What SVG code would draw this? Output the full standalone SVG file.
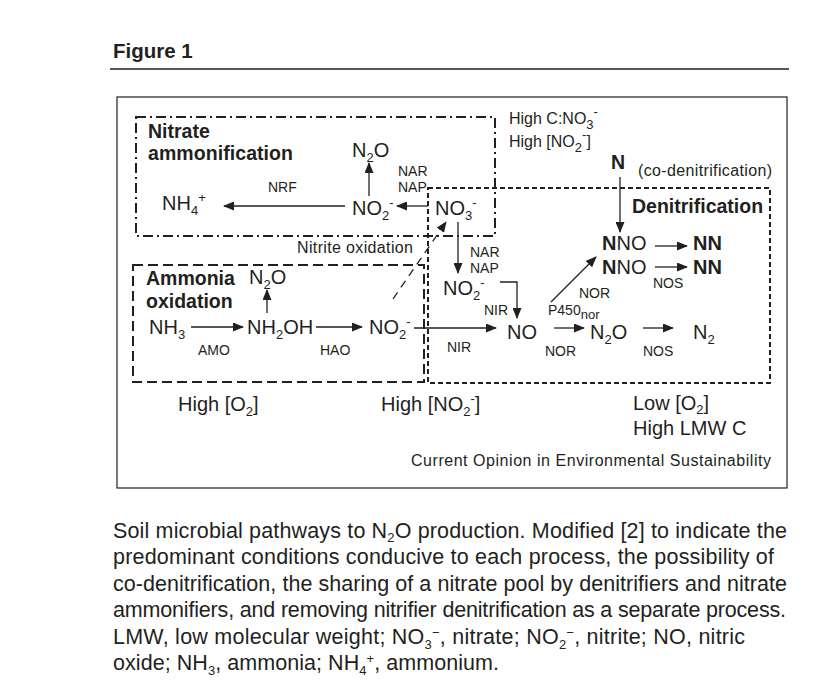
<svg xmlns="http://www.w3.org/2000/svg" width="822" height="688" viewBox="0 0 822 688">
<style>
text{font-family:"Liberation Sans",Arial,sans-serif;fill:#231f20}
.b{font-weight:bold;font-size:19.5px}
.c{font-size:20px}
.e{font-size:14px}
.m{font-size:16px}
.s{font-size:13px}
.cap{font-size:21.5px}
.ln{stroke:#231f20;stroke-width:1.3;fill:none}
.arr{marker-end:url(#ah)}
.bx1{fill:none;stroke:#231f20;stroke-width:2;stroke-dasharray:10 4 2 4}
.bx2{fill:none;stroke:#231f20;stroke-width:2;stroke-dasharray:10 5}
.bx3{fill:none;stroke:#231f20;stroke-width:2;stroke-dasharray:5 3}
</style>
<defs>
<marker id="ah" markerUnits="userSpaceOnUse" markerWidth="11" markerHeight="9" refX="10" refY="4.5" orient="auto">
<path d="M0,0 L11,4.5 L0,9 z" fill="#231f20"/>
</marker>
</defs>
<rect width="822" height="688" fill="#fff"/>
<g id="header">
<text x="113" y="58" style="font-weight:bold;font-size:20.5px">Figure 1</text>
<line x1="110" y1="69" x2="789" y2="69" stroke="#231f20" stroke-width="1.5"/>
<rect x="117" y="97" width="670" height="391" fill="none" stroke="#231f20" stroke-width="1.2"/>
</g>
<g id="nitrate-ammonification">
<rect class="bx1" x="136" y="117" width="359" height="119"/>
<text class="b" x="148" y="138">Nitrate</text>
<text class="b" x="148" y="160" textLength="145">ammonification</text>
<text class="c" x="162" y="210">NH<tspan class="s" dy="5">4</tspan><tspan class="s" dy="-13">+</tspan></text>
<text class="c" x="352" y="157">N<tspan class="s" dy="5">2</tspan><tspan dy="-5">O</tspan></text>
<text class="c" x="352" y="215">NO<tspan class="s" dy="5">2</tspan><tspan class="s" dy="-13">-</tspan></text>
<text class="e" x="268" y="192">NRF</text>
<text class="e" x="398" y="176">NAR</text>
<text class="e" x="398" y="192">NAP</text>
</g>
<g id="nitrate-pool">
<text class="c" x="435" y="215">NO<tspan class="s" dy="5">3</tspan><tspan class="s" dy="-13">-</tspan></text>
</g>
<g id="ammonia-oxidation">
<rect class="bx2" x="133" y="265" width="291" height="117"/>
<text class="b" x="146" y="285">Ammonia</text>
<text class="b" x="146" y="308">oxidation</text>
<text class="c" x="249" y="284">N<tspan class="s" dy="5">2</tspan><tspan dy="-5">O</tspan></text>
<text class="c" x="149" y="334">NH<tspan class="s" dy="5">3</tspan></text>
<text class="c" x="247" y="334">NH<tspan class="s" dy="5">2</tspan><tspan dy="-5">OH</tspan></text>
<text class="c" x="369" y="334">NO<tspan class="s" dy="5">2</tspan><tspan class="s" dy="-13">-</tspan></text>
<text class="e" x="198" y="355">AMO</text>
<text class="e" x="320" y="355">HAO</text>
</g>
<g id="nitrite-oxidation">
<text class="m" x="297" y="253" textLength="116">Nitrite oxidation</text>
</g>
<g id="denitrification">
<rect class="bx3" x="428" y="188" width="342" height="195"/>
<text class="b" x="632" y="213">Denitrification</text>
<text class="c" x="443" y="295">NO<tspan class="s" dy="5">2</tspan><tspan class="s" dy="-13">-</tspan></text>
<text class="c" x="507" y="339">NO</text>
<text class="c" x="590" y="339">N<tspan class="s" dy="5">2</tspan><tspan dy="-5">O</tspan></text>
<text class="c" x="693" y="339">N<tspan class="s" dy="5">2</tspan></text>
<text class="c" x="602" y="250"><tspan font-weight="bold">N</tspan>NO</text>
<text class="c" x="693" y="250" font-weight="bold">NN</text>
<text class="c" x="602" y="274"><tspan font-weight="bold">N</tspan>NO</text>
<text class="c" x="693" y="274" font-weight="bold">NN</text>
<text class="e" x="470" y="257">NAR</text>
<text class="e" x="470" y="273">NAP</text>
<text class="e" x="484" y="315">NIR</text>
<text class="e" x="447" y="352">NIR</text>
<text class="e" x="579" y="298">NOR</text>
<text class="e" x="548" y="315">P450<tspan class="s" dy="4">nor</tspan></text>
<text class="e" x="545" y="356">NOR</text>
<text class="e" x="653" y="288">NOS</text>
<text class="e" x="643" y="356">NOS</text>
</g>
<g id="co-denitrification">
<text class="b" x="611" y="169">N</text>
<text class="m" x="638" y="176" textLength="134">(co-denitrification)</text>
</g>
<g id="conditions">
<text class="m" x="509" y="124">High C:NO<tspan class="s" dy="5">3</tspan><tspan class="s" dy="-13">-</tspan></text>
<text class="m" x="509" y="147">High [NO<tspan class="s" dy="5">2</tspan><tspan class="s" dy="-13">-</tspan><tspan dy="8">]</tspan></text>
<text class="c" x="178" y="411">High [O<tspan class="s" dy="5">2</tspan><tspan dy="-5">]</tspan></text>
<text class="c" x="381" y="411">High [NO<tspan class="s" dy="5">2</tspan><tspan class="s" dy="-13">-</tspan><tspan dy="8">]</tspan></text>
<text class="c" x="633" y="410">Low [O<tspan class="s" dy="4">2</tspan><tspan dy="-4">]</tspan></text>
<text class="c" x="633" y="435">High LMW C</text>
<text class="m" x="411" y="466" textLength="360">Current Opinion in Environmental Sustainability</text>
</g>
<g id="connectors">
<line class="ln arr" x1="345" y1="206" x2="224" y2="206"/>
<line class="ln arr" x1="428" y1="206" x2="397" y2="206"/>
<line class="ln arr" x1="369" y1="196" x2="369" y2="163"/>
<line class="ln arr" x1="458" y1="222" x2="458" y2="273"/>
<polyline class="ln arr" points="500,282 517,282 517,318"/>
<line class="ln arr" x1="414" y1="328" x2="496" y2="328"/>
<line class="ln arr" x1="393" y1="299" x2="446" y2="222" stroke-dasharray="8 6"/>
<line class="ln arr" x1="191" y1="327" x2="243" y2="327"/>
<line class="ln arr" x1="316" y1="327" x2="362" y2="327"/>
<line class="ln arr" x1="267" y1="313" x2="267" y2="290"/>
<line class="ln arr" x1="554" y1="328" x2="584" y2="328"/>
<line class="ln arr" x1="643" y1="328" x2="673" y2="328"/>
<line class="ln arr" x1="551" y1="302" x2="596" y2="257"/>
<line class="ln arr" x1="655" y1="246" x2="687" y2="246"/>
<line class="ln arr" x1="655" y1="267" x2="687" y2="267"/>
<line class="ln arr" x1="620" y1="177" x2="620" y2="232"/>
</g>
<g id="caption">
<text class="cap" x="113" y="538" textLength="674">Soil microbial pathways to N<tspan class="s" dy="4">2</tspan><tspan dy="-4">O production. Modified [2] to indicate the</tspan></text>
<text class="cap" x="113" y="564" textLength="661">predominant conditions conducive to each process, the possibility of</text>
<text class="cap" x="113" y="591" textLength="674">co-denitrification, the sharing of a nitrate pool by denitrifiers and nitrate</text>
<text class="cap" x="113" y="617" textLength="673">ammonifiers, and removing nitrifier denitrification as a separate process.</text>
<text class="cap" x="113" y="644" textLength="632">LMW, low molecular weight; NO<tspan class="s" dy="5">3</tspan><tspan class="s" dy="-12">−</tspan><tspan dy="7">, nitrate; NO</tspan><tspan class="s" dy="5">2</tspan><tspan class="s" dy="-12">−</tspan><tspan dy="7">, nitrite; NO, nitric</tspan></text>
<text class="cap" x="113" y="670" textLength="386">oxide; NH<tspan class="s" dy="5">3</tspan><tspan dy="-5">, ammonia; NH</tspan><tspan class="s" dy="5">4</tspan><tspan class="s" dy="-12">+</tspan><tspan dy="7">, ammonium.</tspan></text>
</g>
</svg>
